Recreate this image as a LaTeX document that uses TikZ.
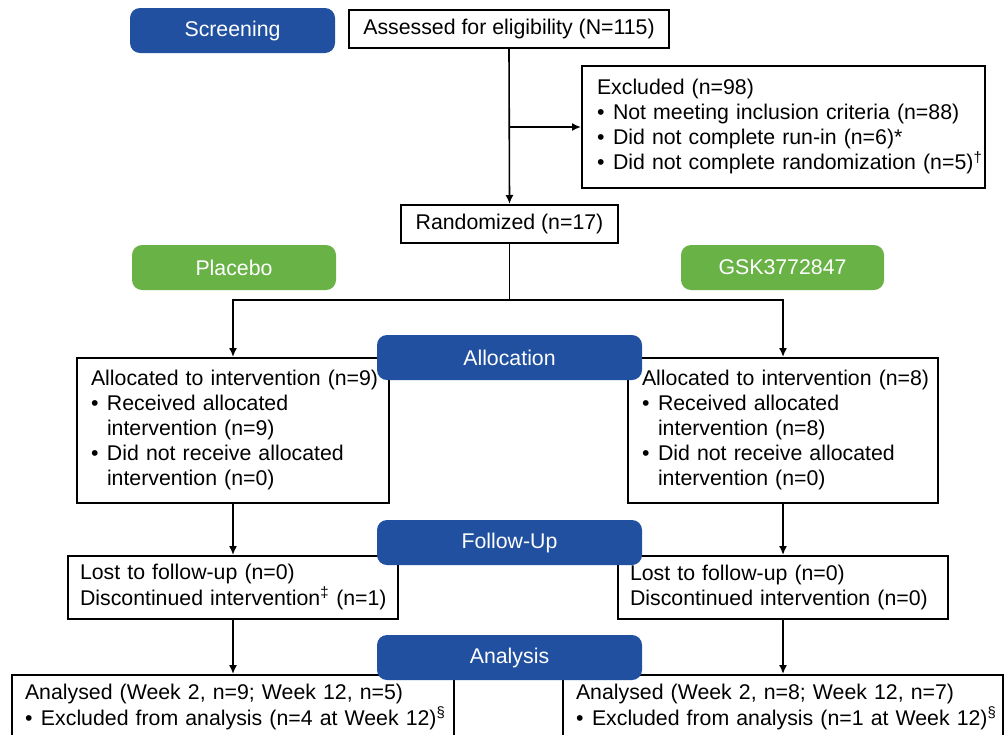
\documentclass[tikz,border=0pt]{standalone}
\usepackage{fontspec}
\setmainfont{Liberation Sans}
\usetikzlibrary{arrows.meta}
\definecolor{stageblue}{RGB}{33,80,160}
\definecolor{armgreen}{RGB}{104,178,70}
\newcommand{\boxfont}{\fontsize{21.3pt}{25pt}\selectfont}
\newcommand{\bitem}{\makebox[16pt][l]{\textbullet}}
\newcommand{\bind}{\hspace*{16pt}}
\tikzset{
  box/.style={draw, line width=2pt, inner sep=0pt, font=\boxfont, fill=white},
  lbox/.style={box, align=left},
  cbox/.style={box, align=center},
  stage/.style={rounded corners=10pt, fill=stageblue, text=white, font=\boxfont,
    inner sep=0pt, minimum width=265pt, minimum height=45pt},
  arm/.style={rounded corners=10pt, fill=armgreen, text=white, font=\boxfont,
    inner sep=0pt, minimum width=204pt, minimum height=45pt},
  conn/.style={line width=1.6pt},
  arr/.style={conn, -{Latex[length=9pt,width=8pt]}}
}
\begin{document}
\begin{tikzpicture}[x=1pt,y=-1pt]
\useasboundingbox (0,0) rectangle (1008,734);
\clip (0,0) rectangle (1008,734);
\fill[white] (0,0) rectangle (1008,734);

% top row
\node[stage, minimum width=205pt] (screen) at (232.5,30.5) {Screening};
\node[cbox, minimum width=320pt, minimum height=38pt] (assessed) at (509,29) {Assessed for eligibility (N=115)};

\node[lbox, text width=373pt, inner xsep=15pt, minimum height=122pt] (excl) at (783.5,127)
 {\begin{tabular}{@{}l@{}}Excluded (n=98)\\
  \bitem Not meeting inclusion criteria (n=88)\\
  \bitem Did not complete run-in (n=6)*\\
  \bitem Did not complete randomization (n=5)\textsuperscript{†}\end{tabular}};

\node[cbox, minimum width=217pt, minimum height=38pt] (random) at (509.5,224) {Randomized (n=17)};

\node[arm] (placebo) at (234,267.5) {Placebo};
\node[arm, minimum width=203pt] (gsk) at (782.5,267.5) {GSK3772847};

% allocation boxes
\node[lbox, text width=284pt, inner xsep=14pt, minimum height=145pt] (allocL) at (233,430.5)
 {\begin{tabular}{@{}l@{}}Allocated to intervention (n=9)\\
  \bitem Received allocated\\
  \bind intervention (n=9)\\
  \bitem Did not receive allocated\\
  \bind intervention (n=0)\end{tabular}};
\node[lbox, text width=282pt, inner xsep=14pt, minimum height=145pt] (allocR) at (783,430.5)
 {\begin{tabular}{@{}l@{}}Allocated to intervention (n=8)\\
  \bitem Received allocated\\
  \bind intervention (n=8)\\
  \bitem Did not receive allocated\\
  \bind intervention (n=0)\end{tabular}};

% follow-up boxes
\node[lbox, text width=306pt, inner xsep=12pt, minimum height=63pt] (followL) at (233,587.5)
 {\begin{tabular}{@{}l@{}}Lost to follow-up (n=0)\\
  Discontinued intervention\textsuperscript{‡} (n=1)\end{tabular}};
\node[lbox, text width=306pt, inner xsep=12pt, minimum height=63pt] (followR) at (783,587.5)
 {\begin{tabular}{@{}l@{}}Lost to follow-up (n=0)\\
  Discontinued intervention (n=0)\end{tabular}};

% analysis boxes (cut off at the bottom edge)
\node[lbox, text width=416pt, inner xsep=13pt, inner ysep=7pt, anchor=north] (anaL) at (233,674)
 {\begin{tabular}{@{}l@{}}Analysed (Week 2, n=9; Week 12, n=5)\\
  \bitem Excluded from analysis (n=4 at Week 12)\textsuperscript{§}\\ \\ \end{tabular}};
\node[lbox, text width=414pt, inner xsep=13pt, inner ysep=7pt, anchor=north] (anaR) at (783,674)
 {\begin{tabular}{@{}l@{}}Analysed (Week 2, n=8; Week 12, n=7)\\
  \bitem Excluded from analysis (n=1 at Week 12)\textsuperscript{§}\\ \\ \end{tabular}};

% connectors
\coordinate (j1) at (509,127);
\coordinate (split) at (509.5,300);
\draw[arr] (assessed.south) -- (random.north);
\draw[arr] (j1) -- (excl.west);
\draw[conn] (random.south) -- (split);
\draw[arr] (split) -| (allocL.north);
\draw[arr] (split) -| (allocR.north);
\draw[arr] (allocL.south) -- (followL.north);
\draw[arr] (allocR.south) -- (followR.north);
\draw[arr] (followL.south) -- (anaL.north);
\draw[arr] (followR.south) -- (anaR.north);

% stage labels on top
\node[stage] (alloc) at (509.5,357.5) {Allocation};
\node[stage] (follow) at (509.5,542.5) {Follow-Up};
\node[stage] (ana) at (509.5,657.5) {Analysis};
\end{tikzpicture}
\end{document}
